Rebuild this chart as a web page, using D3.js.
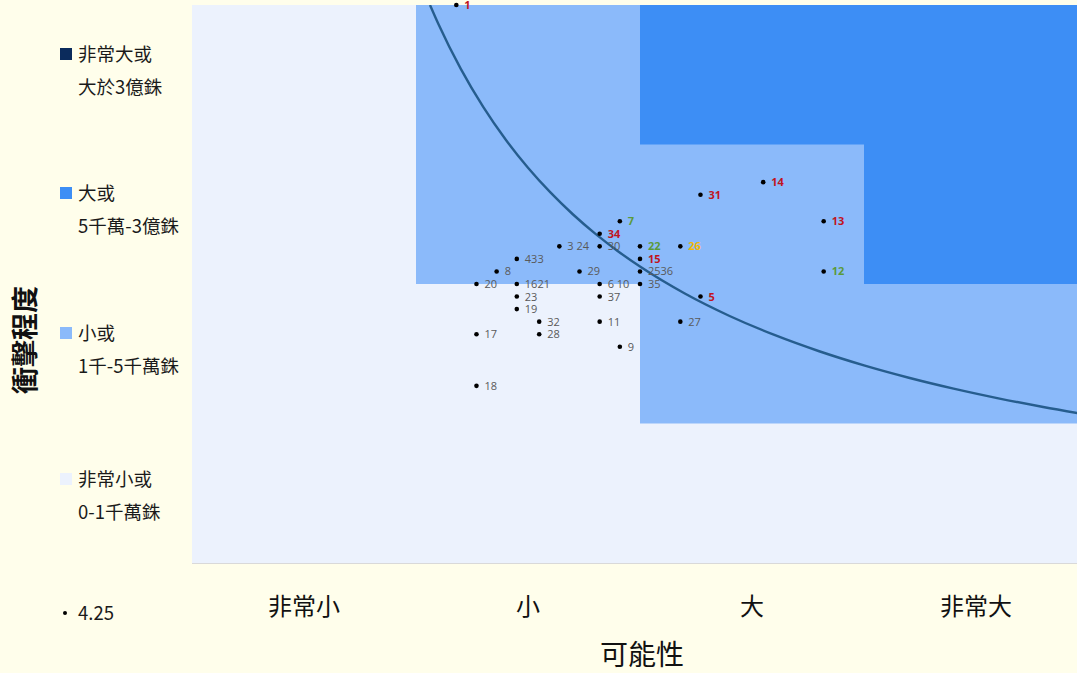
<!DOCTYPE html>
<html><head><meta charset="utf-8">
<script src="https://cdn.jsdelivr.net/npm/d3@7"></script>
<style>
html,body{margin:0;padding:0;background:#fffeeb;overflow:hidden;}
svg{display:block;}
</style></head>
<body>
<svg id="chart" width="1077" height="673"></svg>
<script>
// X-axis category tick labels (可能性)
const xCategories = ["非常小", "小", "大", "非常大"];
// Impact legend (衝擊程度)
const legendLabels = [["非常大或", "大於3億銖"], ["大或", "5千萬-3億銖"], ["小或", "1千-5千萬銖"], ["非常小或", "0-1千萬銖"]];
const legendColors = ["#0b2b5c", "#3d8ef5", "#8bbafa", "#ecf2fd"];
// Risk zones: [x0, x1, y0, y1, level]
const zones = [
  [0, 4, 0, 4, 3],
  [1, 2, 2, 4, 2],
  [2, 4, 1, 4, 2],
  [2, 3, 3, 4, 1],
  [3, 4, 2, 4, 1]
];
// Points (risk id label groups, likelihood x, impact y, label colour key)
const pointLabels = ["1","14","31","7","13","34","3 24","30","22","26","433","15","8","29","2536","12","20","1621","6 10","35","23","37","5","19","32","11","27","17","28","9","18"];
const pointX =      [1.18,2.55,2.27,1.91,2.82,1.82,1.64,1.82,2.00,2.18,1.45,2.00,1.36,1.73,2.00,2.82,1.27,1.45,1.82,2.00,1.45,1.82,2.27,1.45,1.55,1.82,2.18,1.27,1.55,1.91,1.27];
const pointY =      [4.00,2.73,2.64,2.45,2.45,2.36,2.27,2.27,2.27,2.27,2.18,2.18,2.09,2.09,2.09,2.09,2.00,2.00,2.00,2.00,1.91,1.91,1.91,1.82,1.73,1.73,1.73,1.64,1.64,1.55,1.27];
const pointKind =   ["r","r","r","g","r","r","n","n","g","o","n","r","n","n","n","g","n","n","n","n","n","n","r","n","n","n","n","n","n","n","n"];
const kindColor = {r:"#c0141e", g:"#5b9a3a", o:"#f2b705", n:"#595959"};
// Threshold curve: likelihood × impact = 4.25
const thresholdValue = 4.25;
const curveX = [1.0625,1.1,1.2,1.3,1.4,1.5,1.6,1.7,1.8,1.9,2.0,2.2,2.4,2.6,2.8,3.0,3.2,3.4,3.6,3.8,4.0];

const svg = d3.select("#chart");
const x = d3.scaleLinear().domain([0,4]).range([192,1088]);
const y = d3.scaleLinear().domain([0,4]).range([563,5]);

svg.append("defs").append("clipPath").attr("id","plotclip")
  .append("rect").attr("x",192).attr("y",5).attr("width",896).attr("height",558);

const plot = svg.append("g");
plot.selectAll("rect.zone").data(zones).join("rect").attr("class","zone")
  .attr("x",d=>x(d[0])).attr("width",d=>x(d[1])-x(d[0]))
  .attr("y",d=>y(d[3])).attr("height",d=>y(d[2])-y(d[3]))
  .attr("fill",d=>legendColors[d[4]]);

// bottom axis line
plot.append("line").attr("x1",192).attr("x2",1088).attr("y1",563.5).attr("y2",563.5)
  .attr("stroke","#d9d9d9").attr("stroke-width",1);

// x axis labels
const xa = d3.axisBottom(d3.scaleBand().domain(xCategories).range([192,1088])).tickSize(0).tickPadding(0);
const xg = svg.append("g").attr("transform","translate(0,563)").call(xa);
xg.select(".domain").remove();
xg.selectAll("text").attr("dy",null).attr("y",52).attr("fill","#111")
  .style("font-family","'Noto Sans CJK TC'").style("font-size","24px");

// curve
const line = d3.line().x(d=>x(d)).y(d=>y(thresholdValue/d)).curve(d3.curveMonotoneX);
svg.append("path").datum(curveX).attr("d",line).attr("fill","none")
  .attr("stroke","#265d8e").attr("stroke-width",2.4).attr("clip-path","url(#plotclip)");

// points
const pts = pointLabels.map((l,i)=>({l, x:pointX[i], y:pointY[i], k:pointKind[i]}));
svg.selectAll("circle.pt").data(pts).join("circle").attr("class","pt")
  .attr("cx",d=>x(d.x)).attr("cy",d=>y(d.y)).attr("r",2.3).attr("fill","#000");
svg.selectAll("text.pl").data(pts).join("text").attr("class","pl")
  .attr("x",d=>x(d.x)+8).attr("y",d=>y(d.y)+4)
  .attr("fill",d=>kindColor[d.k])
  .style("font-family","'Open Sans', sans-serif").style("font-size","11px")
  .style("font-weight",d=>d.k==="n"?"normal":"bold")
  .text(d=>d.l);

// legend
const legendY = [54, 193, 333, 479];
const lg = svg.append("g");
legendLabels.forEach((lab,i)=>{
  lg.append("rect").attr("x",60).attr("y",legendY[i]-6).attr("width",12).attr("height",12).attr("fill",legendColors[i]);
  lab.forEach((t,j)=>{
    lg.append("text").attr("x",78).attr("y",legendY[i]+7+j*33).text(t)
      .attr("fill","#1a1a1a").style("font-family","'Noto Sans CJK TC'").style("font-size","18.5px");
  });
});
lg.append("circle").attr("cx",65).attr("cy",613).attr("r",2).attr("fill","#000");
lg.append("text").attr("x",78).attr("y",620).text(String(thresholdValue))
  .attr("fill","#1a1a1a").style("font-family","'Noto Sans CJK TC'").style("font-size","18.5px");

// axis titles
svg.append("text").attr("x",642).attr("y",665).attr("text-anchor","middle").text("可能性")
  .attr("fill","#111").style("font-family","'Noto Sans CJK TC'").style("font-size","28px");
svg.append("text").attr("transform","translate(35,340) rotate(-90)").attr("text-anchor","middle").text("衝擊程度")
  .attr("fill","#111").style("font-family","'Noto Sans CJK TC'").style("font-size","27px").style("font-weight","bold");
</script>
</body></html>
